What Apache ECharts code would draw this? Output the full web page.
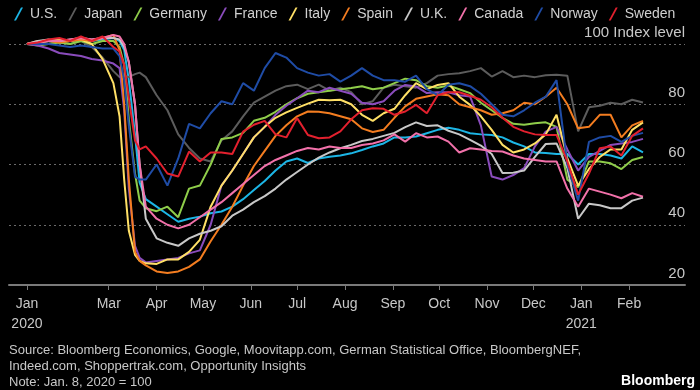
<!DOCTYPE html>
<html><head><meta charset="utf-8">
<script src="https://cdn.jsdelivr.net/npm/echarts@6/dist/echarts.min.js"></script>
<style>html,body{margin:0;padding:0;background:#000}#c{width:700px;height:390px}</style>
</head><body><div id="c"></div>
<script>
const dates = ['2020-01-08','2020-01-15','2020-01-22','2020-01-29','2020-02-05','2020-02-12','2020-02-19','2020-02-26','2020-03-04','2020-03-08','2020-03-11','2020-03-14','2020-03-18','2020-03-21','2020-03-25',
'2020-04-01','2020-04-08','2020-04-15','2020-04-22','2020-04-29','2020-05-06','2020-05-13','2020-05-20','2020-05-27','2020-06-03','2020-06-10','2020-06-17','2020-06-24','2020-07-01','2020-07-08','2020-07-15','2020-07-22','2020-07-29','2020-08-05','2020-08-12','2020-08-19','2020-08-26','2020-09-02','2020-09-09','2020-09-16','2020-09-23','2020-09-30','2020-10-07','2020-10-14','2020-10-21','2020-10-28','2020-11-04','2020-11-11','2020-11-18','2020-11-25','2020-12-02','2020-12-09','2020-12-16','2020-12-23','2020-12-30','2021-01-06','2021-01-13','2021-01-20','2021-01-27','2021-02-03','2021-02-10'];

const seriesNames = ['U.S.','Japan','Germany','France','Italy','Spain','U.K.','Canada','Norway','Sweden'];
const seriesColors = ['#1cb6e6','#5c5c5c','#8fcd4a','#8a4cbc','#ffe066','#f47d20','#c8c8c8','#f271aa','#1f4ca6','#e3202e'];

const usValues = [100,100.5,101,100.5,101,101.5,101,101.5,102,101,98,88,70,54,
48.5,46,43.5,41,42,42.7,43.8,44.4,46,48.5,51.5,54.5,58,61,62,60.5,62,62.6,63,63.7,64.8,66,67,69,69,69.3,70.4,71.5,72.2,71.5,70.4,70,69.8,69,67.3,66,64,63.8,63.5,63.5,60,63.5,63.5,63,62,66,64];
const japanValues = [100,100.5,101,100.5,100,101,99,95.5,91,89,89.5,89,90,90.5,
89,83,78,70,65.5,62,61,68,71,76,80.5,82.5,84.5,86,86.5,85,86.5,84.5,85.5,84,80,81,85.5,86.5,86,85.5,87,89.5,90,90.3,91,92,89.2,91,89,89.5,89,89.6,89.8,89.5,71,79,79.5,80.5,80,81.5,80.6];
const germanyValues = [100,99.5,100,100.5,100,101,100,101,101,99,93,75,57,48,
45.5,44.5,46,42.5,52,53,60,68.5,69,70.5,74.5,75.5,77.5,80,82,83.5,84,84.5,85,85.4,86,85,85.5,87,88.5,88,86,85.5,86.2,85,83.7,80.5,78,75.5,73.5,73.2,73.7,74,72.5,55,52.5,61,61,60.4,58.5,61.5,62.5];
const franceValues = [100,99.5,98.5,97,96.5,96,95,94.5,93.5,92,78,52,33,29,
27.5,28,28.5,29,30.5,31.5,40,53,58,63.5,69,72.5,76.5,79.5,82,84.5,84,85.5,84.5,83.5,80.5,80,81,84.5,86.4,85.9,83.7,84,84,83,82.6,73,56,55,56.5,58.8,66,70.9,72.5,65,58,62.5,64.5,66.5,67,67.5,68.5];
const italyValues = [100,100.5,101,101.5,101,101.5,100,95,87,76,55,38,30,28,
27.2,27,28.5,28.5,31,35,46,53,58,63.5,69,72.5,75.5,77.3,78.8,80.2,81.5,81.3,81.5,80,76.5,74.5,77,78.5,83,87,85,86.4,87,82.5,79.8,76,71.5,66.5,64,65,67,70,76.5,62,53,58.5,62.5,65,65,71.5,74];
const spainValues = [100,101,101,100.5,101,101.5,101,102,103,98,80,55,31,28,
26.5,24.5,24,24.5,26,28.5,34.5,40,46,53,59.5,64.5,69.5,73,76,77.6,77.5,77,76,75,72,70.8,71.5,75.5,79.3,81.8,82.6,83.3,83,80,79,78,76.5,77,78,80.5,80,82.5,85.5,80,72,72.5,76.5,76.5,69,73,74.5];
const ukValues = [100,101,101.5,101,101.5,102,101.5,102,102,101.5,99,94,80,60,
42,35.5,34,33,35.5,37,38,39.5,43,45,47.5,49.5,52,55,57.5,60,62.3,64,65.4,66.5,67.8,68.5,69.5,70.5,72.4,74,72.8,73,71.2,70,68.2,66.3,63.5,57.2,57.3,58,62.5,66.8,67,58.8,42,47,46.5,45.5,45.5,48,49];
const canadaValues = [100,100.5,101,101,101.5,102,101.5,102,103,102.5,100,94,80,60,
46,42,40,38.8,40,42.5,45,47.5,50.5,53.5,56.5,59.5,61.5,63,64.5,65.5,65,66,65.5,65.5,66.5,67,68,70,67.6,70.4,69,69.3,67.6,64,65.4,65,64.5,64.3,63,62,61.5,61,61,52,46,52,51,50,48.8,50.5,49.3];
const norwayValues = [100,100,100,99.5,99,99.5,99,98.5,98.5,96,88,73,56,55,
55,60,53,62,73.5,72,77,81,80,87,84.5,92,97,95.5,92,90.5,89.5,90,87.5,89.5,92,89.5,88,88,87.5,89.5,85,83,86.5,87,86,83.5,80,76.5,76,78,80.5,82.5,88,60,48,67.5,69,69.5,67.5,69.5,70.5];
const swedenValues = [100,100.5,101.5,102,101,102.5,101,102.5,99,97.5,93,82,68,65,
66,62,57,56,64.3,61,64,64,63.5,70.9,73.2,74.5,70,69,75.4,69.8,68.7,69,71,75,78,78.7,78.5,76.5,77.6,79.8,77,83,84,84,82.8,81.5,79,75.5,72.5,71,70,69.8,69.8,61,50,57,65.4,66,63,69.5,72];

const allValues = [usValues,japanValues,germanyValues,franceValues,italyValues,spainValues,ukValues,canadaValues,norwayValues,swedenValues];

const tickDates = ['2020-01-08','2020-03-01','2020-04-01','2020-05-01','2020-06-01','2020-07-01','2020-08-01','2020-09-01','2020-10-01','2020-11-01','2020-12-01','2021-01-01','2021-02-01'];
const tickLabels = ['Jan\n2020','Mar','Apr','May','Jun','Jul','Aug','Sep','Oct','Nov','Dec','Jan\n2021','Feb'];
const yTickLabels = {20:'20',40:'40',60:'60',80:'80',100:'100 Index level'};

const footerLines = ['Source: Bloomberg Economics, Google, Moovitapp.com, German Statistical Office, BloombergNEF,','Indeed.com, Shoppertrak.com, Opportunity Insights','Note: Jan. 8, 2020 = 100'];

const base = Date.parse('2020-01-08');
const dayOf = d => Math.round((Date.parse(d) - base) / 86400000);
const tickDays = tickDates.map(dayOf);
const labelMap = {};
tickDays.forEach((d,i)=>{labelMap[d]=tickLabels[i];});
const xDays = dates.map(dayOf);

const FONT = '"Liberation Sans",Arial,sans-serif';

const chart = echarts.init(document.getElementById('c'), null, {renderer:'canvas'});
chart.setOption({
  backgroundColor:'#000',
  animation:false,
  textStyle:{fontFamily:FONT},
  legend:{
    left:9, top:2, itemGap:11, itemWidth:9, itemHeight:13,
    icon:'path://M7,0 L9,0 L2,13 L0,13 Z',
    textStyle:{color:'#d0d0d0', fontSize:14, fontFamily:FONT, padding:[0,0,0,2]},
    data:seriesNames
  },
  grid:{left:9, right:15, top:44, bottom:105, containLabel:false},
  xAxis:{
    type:'value', min:-11.6, max:426.2,
    axisLine:{show:true, onZero:false, lineStyle:{color:'#7a7a7a', width:2}},
    axisTick:{show:true, customValues:tickDays, length:5, lineStyle:{color:'#7a7a7a', width:1}},
    axisLabel:{customValues:tickDays, color:'#c8c8c8', fontSize:14, fontFamily:FONT, lineHeight:20, margin:9,
      formatter:v=>labelMap[Math.round(v)]||''},
    splitLine:{show:false}
  },
  yAxis:{
    type:'value', min:20, max:100, interval:20, position:'right',
    axisLine:{show:false}, axisTick:{show:false},
    splitLine:{show:true, lineStyle:{color:'#6a6a6a', width:1, type:[2,3]}},
    axisLabel:{inside:true, margin:0, verticalAlign:'bottom', padding:[0,0,4,0], color:'#c8c8c8', fontSize:15, fontFamily:FONT,
      formatter:v=>yTickLabels[v]||''}
  },
  series:seriesNames.map((n,i)=>({
    name:n, type:'line', showSymbol:false, clip:false, color:seriesColors[i],
    lineStyle:{width:2, color:seriesColors[i]},
    data:xDays.map((d,j)=>[d, allValues[i][j]])
  })),
  graphic:[
    {type:'text', left:9, top:342, style:{text:footerLines.join('\n'), fill:'#c8c8c8', font:'13px '+FONT, lineHeight:16}},
    {type:'text', right:5, bottom:2, style:{text:'Bloomberg', fill:'#ffffff', font:'bold 14px '+FONT}}
  ]
});
</script></body></html>
